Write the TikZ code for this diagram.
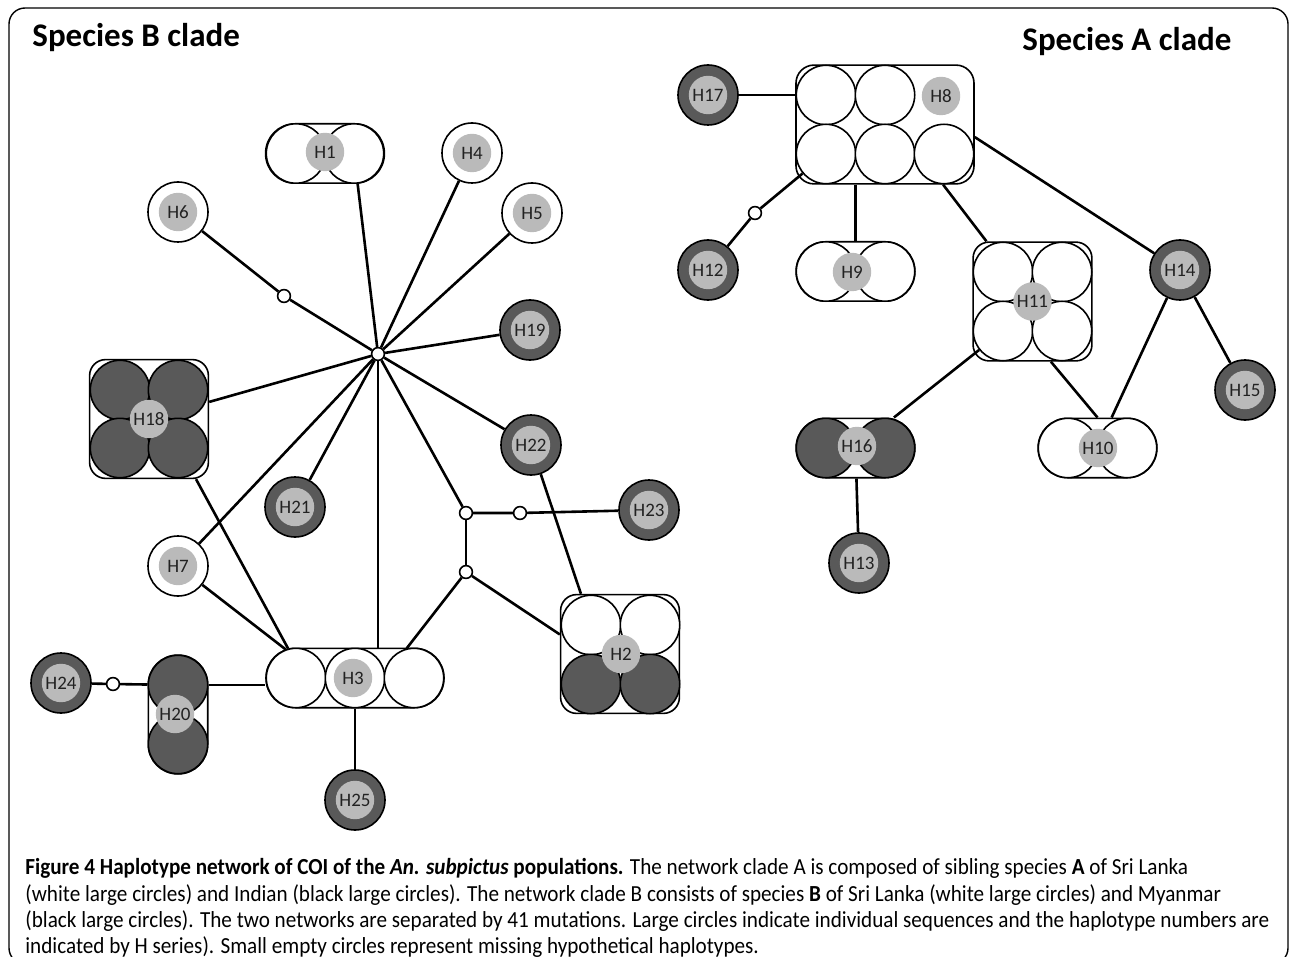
\documentclass[tikz,border=0pt]{standalone}
\usepackage{fontspec}
\setmainfont{Carlito}
\newfontfamily\capfont[FakeStretch=0.92]{Carlito}
\tikzset{>=latex}
\definecolor{darkhap}{HTML}{595959}
\definecolor{corehap}{HTML}{BABABA}
\definecolor{labeltext}{HTML}{222222}
\tikzset{
  sngl/.style={circle, draw, line width=0.8pt, minimum size=30pt, inner sep=0pt,
    text=labeltext, font=\fontsize{9.5}{10}\selectfont,
    path picture={\fill[corehap] (path picture bounding box.center) circle[radius=9.6pt];}},
  cell/.style={circle, draw, line width=0.8pt, minimum size=29.7pt, inner sep=0pt},
  core/.style={circle, fill=corehap, minimum size=19.2pt, inner sep=0pt,
    text=labeltext, font=\fontsize{9.5}{10}\selectfont},
  clus/.style={draw, fill=white, line width=0.8pt, inner sep=0pt},
  miss/.style={circle, draw, fill=white, line width=0.8pt, minimum size=6.4pt, inner sep=0pt},
  link/.style={line width=1.3pt},
  cladetitle/.style={anchor=base west, inner sep=0pt, font=\bfseries\fontsize{16.5}{18}\selectfont},
  capline/.style={anchor=base west, inner sep=0pt, font=\capfont\fontsize{11.5}{13}\selectfont},
}

\begin{document}
\begin{tikzpicture}[x=0.5pt, y=-0.5pt]
  \useasboundingbox (0,0) rectangle (1290,957);
  \draw[line width=0.7pt, rounded corners=8pt] (9,8) rectangle (1288,964);

  % species A clade
  \node[cladetitle] (titlea) at (1022,51) {Species A clade};
  \node[clus, minimum width=89pt, minimum height=59.4pt, rounded corners=9pt] (h8) at (885,124.5) {};
  \foreach \n/\x/\y in {a/826/95, b/885/95, d/826/154, e/885/154, f/944/154}
    \node[cell, fill=white] (h8\n) at (\x,\y) {};
  \node[core] (h8t) at (941,96) {H8};
  \node[sngl, fill=darkhap] (h17) at (708,95) {H17};
  \node[sngl, fill=darkhap] (h12) at (708,270) {H12};
  \node[miss] (m1) at (755,213) {};
  \node[clus, minimum width=59.4pt, minimum height=29.7pt, rounded corners=14.7pt] (h9) at (855.5,271.5) {};
  \foreach \n/\x in {a/826, b/885}
    \node[cell, fill=white] (h9\n) at (\x,271.5) {};
  \node[core] (h9t) at (852,272) {H9};
  \node[clus, minimum width=59.4pt, minimum height=59.4pt, rounded corners=8pt] (h11) at (1032.5,301.5) {};
  \foreach \n/\x/\y in {a/1003/272, b/1062/272, c/1003/331, d/1062/331}
    \node[cell, fill=white] (h11\n) at (\x,\y) {};
  \node[core] (h11t) at (1032.5,301.5) {H11};
  \node[sngl, fill=darkhap] (h14) at (1180,270) {H14};
  \node[sngl, fill=darkhap] (h15) at (1245,390) {H15};
  \node[clus, minimum width=59.4pt, minimum height=29.7pt, rounded corners=14.7pt] (h10) at (1097.5,448) {};
  \foreach \n/\x in {a/1068, b/1127}
    \node[cell, fill=white] (h10\n) at (\x,448) {};
  \node[core] (h10t) at (1098,448) {H10};
  \node[clus, minimum width=59.4pt, minimum height=29.7pt, rounded corners=14.7pt] (h16) at (855.5,448) {};
  \foreach \n/\x in {a/826, b/885}
    \node[cell, fill=darkhap] (h16\n) at (\x,448) {};
  \node[core] (h16t) at (857,446) {H16};
  \node[sngl, fill=darkhap] (h13) at (859,563) {H13};

  \draw[link] (h17) -- (h8a);
  \draw[link] (h8d) -- (m1) -- (h12);
  \draw[link] (h9.north |- h8.south) -- (h9.north);
  \draw[link] (h8.-46) -- (h11);
  \draw[link] (h8.-8) -- (h14);
  \draw[link] (h14) -- (h15);
  \draw[link] (h14) -- (h10);
  \draw[link] (h11.-73) -- (h10.north);
  \draw[link] (h11c) -- (h16);
  \draw[link] (h16) -- (h13);

  % species B clade
  \node[cladetitle] (titleb) at (32,47) {Species B clade};
  \node[miss] (hub) at (378,354) {};
  \node[clus, minimum width=59.4pt, minimum height=29.7pt, rounded corners=14.7pt] (h1) at (325,153.5) {};
  \foreach \n/\x in {a/296, b/354}
    \node[cell, fill=white] (h1\n) at (\x,153.5) {};
  \node[core] (h1t) at (325,152) {H1};
  \node[sngl, fill=white] (h4) at (472,153) {H4};
  \node[sngl, fill=white] (h5) at (532,213) {H5};
  \node[sngl, fill=white] (h6) at (178,212) {H6};
  \node[miss] (m2) at (284,296) {};
  \node[sngl, fill=darkhap] (h19) at (530,330) {H19};
  \node[sngl, fill=darkhap] (h22) at (531,445) {H22};
  \node[sngl, fill=darkhap] (h21) at (295,507) {H21};
  \node[clus, minimum width=59.4pt, minimum height=59.4pt, rounded corners=8pt] (h18) at (149,419) {};
  \foreach \n/\x/\y in {a/120/390, b/178/390, c/120/448, d/178/448}
    \node[cell, fill=darkhap] (h18\n) at (\x,\y) {};
  \node[core] (h18t) at (149,419) {H18};
  \node[sngl, fill=white] (h7) at (178,566) {H7};
  \node[clus, minimum width=89pt, minimum height=29.7pt, rounded corners=14.7pt] (h3) at (355,678) {};
  \foreach \n/\x in {a/296, b/355, c/414}
    \node[cell, fill=white] (h3\n) at (\x,678) {};
  \node[core] (h3t) at (353,678) {H3};
  \node[miss] (j1) at (466,513) {};
  \node[miss] (m3) at (520,513) {};
  \node[miss] (j2) at (466,572) {};
  \node[sngl, fill=darkhap] (h23) at (649,510) {H23};
  \node[clus, minimum width=59.4pt, minimum height=59.4pt, rounded corners=8pt] (h2) at (620,654) {};
  \foreach \n/\x/\y/\c in {a/591/625/white, b/650/625/white, c/591/684/darkhap, d/650/684/darkhap}
    \node[cell, fill=\c] (h2\n) at (\x,\y) {};
  \node[core] (h2t) at (621,654) {H2};
  \node[clus, minimum width=29.7pt, minimum height=59.4pt, rounded corners=14.7pt] (h20) at (178,714.5) {};
  \foreach \n/\y in {a/685, b/744}
    \node[cell, fill=darkhap] (h20\n) at (178,\y) {};
  \node[core] (h20t) at (175,714) {H20};
  \node[sngl, fill=darkhap] (h24) at (61,683) {H24};
  \node[miss] (m4) at (113,684) {};
  \node[sngl, fill=darkhap] (h25) at (355,800) {H25};

  \draw[link] (hub) -- (h1b);
  \draw[link] (hub) -- (h4);
  \draw[link] (hub) -- (h5);
  \draw[link] (hub) -- (m2) -- (h6);
  \draw[link] (hub) -- (h19);
  \draw[link] (hub) -- (h22);
  \draw[link] (hub) -- (h21);
  \draw[link] (hub) -- (h18);
  \draw[link] (hub) -- (h7);
  \draw[link] (hub) -- (hub |- h3.north);
  \draw[link] (hub) -- (j1);
  \draw[link] (j1) -- (m3) -- (h23);
  \draw[link] (j1) -- (j2);
  \draw[link] (j2) -- (h3c.104);
  \draw[link] (j2) -- (h2.162);
  \draw[link] (h22) -- (h2.123);
  \draw[link] (h18.-52) -- (h3a.105);
  \draw[link] (h7) -- (h3a.110);
  \draw[link] (h24) -- (m4) -- (h20a);
  \draw[link] (h20a) -- (h20a -| h3.west);
  \draw[link] (h3b) -- (h25);

  % caption
  \node[capline] (cap1) at (25,874) {\textbf{Figure 4 Haplotype network of COI of the \textit{An. subpictus} populations.} The network clade A is composed of sibling species \textbf{A} of Sri Lanka};
  \node[capline] (cap2) at (25,901) {(white large circles) and Indian (black large circles). The network clade B consists of species \textbf{B} of Sri Lanka (white large circles) and Myanmar};
  \node[capline] (cap3) at (25,927.5) {(black large circles). The two networks are separated by 41 mutations. Large circles indicate individual sequences and the haplotype numbers are};
  \node[capline] (cap4) at (25,953) {indicated by H series). Small empty circles represent missing hypothetical haplotypes.};
\end{tikzpicture}
\end{document}
